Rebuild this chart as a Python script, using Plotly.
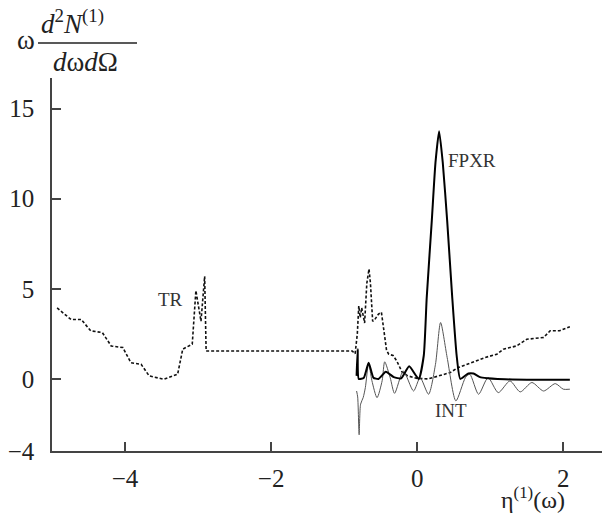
import plotly.graph_objects as go

# TR (dotted)
tr_x = [-4.93, -4.88, -4.74, -4.60, -4.47, -4.31, -4.19, -4.03, -3.92, -3.78, -3.67, -3.47, -3.28,
        -3.21, -3.08, -3.03, -2.96, -2.91, -2.89, -2.83, -0.89, -0.85, -0.82, -0.80, -0.78, -0.76,
        -0.72, -0.69, -0.66, -0.64, -0.61, -0.58, -0.53, -0.49, -0.46, -0.42, -0.39, -0.33, -0.28,
        -0.21, -0.13, 0.0, 0.15, 0.31, 0.45, 0.56, 0.68, 0.82, 0.93, 1.09, 1.18, 1.36, 1.5, 1.73,
        1.82, 1.95, 2.09]
tr_y = [3.94, 3.78, 3.3, 3.3, 2.67, 2.57, 1.83, 1.74, 0.9, 0.81, 0.17, -0.02, 0.26,
        1.65, 1.93, 4.9, 3.2, 5.7, 1.55, 1.55, 1.55, 1.4, 2.5, 4.05, 3.4, 3.95,
        3.1, 5.3, 6.1, 5.3, 3.2, 3.3, 3.6, 3.7, 2.65, 1.6, 1.37, 1.3, 1.0,
        0.4, 0.17, 0.03, 0.0, 0.17, 0.35, 0.63, 0.81, 1.0, 1.19, 1.37, 1.65, 1.83, 2.2, 2.3,
        2.67, 2.67, 2.9]

# FPXR (thick)
fp_x = [-0.83, -0.815, -0.80, -0.73, -0.665, -0.60, -0.53, -0.43, -0.32, -0.22, -0.11, 0.02,
        0.09, 0.13, 0.20, 0.25, 0.30, 0.35, 0.41, 0.48, 0.54, 0.59, 0.70, 0.77, 0.86, 0.97,
        1.10, 1.30, 1.70, 2.09]
fp_y = [0.17, 1.65, 0.0, 0.07, 0.9, 0.07, 0.0, 0.4, 0.1, 0.03, 0.7, 0.0,
        1.3, 4.5, 8.8, 12.0, 13.75, 12.0, 8.8, 4.5, 1.3, 0.0, 0.3, 0.3, 0.1, 0.04,
        0.0, -0.03, -0.05, -0.05]

# INT (thin)
int_x = [-0.83, -0.815, -0.795, -0.775, -0.74, -0.71, -0.665, -0.62, -0.55, -0.48, -0.445,
         -0.37, -0.31, -0.19, -0.05, 0.04, 0.155, 0.25, 0.32, 0.41, 0.53, 0.66, 0.72, 0.84,
         0.97, 1.11, 1.27, 1.41, 1.57, 1.73, 1.89, 2.0, 2.09]
int_y = [-0.67, -1.0, -3.1, -1.4, -1.04, -0.48, 0.85, -0.1, -1.04, -0.1, 0.95,
         0.07, -0.8, 0.44, -0.67, 0.07, -0.85, 0.81, 3.13, 1.19, -1.22, 0.07, 0.26, -0.85,
         0.07, -0.76, -0.11, -0.72, -0.2, -0.67, -0.26, -0.57, -0.57]

x_ticks = [-4, -2, 0, 2]
y_ticks = [-4, 0, 5, 10, 15]

SERIF = "Liberation Serif"

fig = go.Figure()
fig.add_trace(go.Scatter(x=tr_x, y=tr_y, mode="lines",
                         line=dict(color="#111", width=1.6, dash="3px,2px")))
fig.add_trace(go.Scatter(x=int_x, y=int_y, mode="lines",
                         line=dict(color="#555", width=1, shape="spline", smoothing=0.7)))
fig.add_trace(go.Scatter(x=fp_x, y=fp_y, mode="lines",
                         line=dict(color="#000", width=2, shape="spline", smoothing=0.5)))

fig.update_layout(
    width=602, height=515,
    margin=dict(l=52, r=0, t=78, b=64),
    paper_bgcolor="white", plot_bgcolor="white",
    showlegend=False,
    font=dict(family=SERIF, size=25, color="#222"),
)
fig.update_xaxes(range=[-5, 2.53], tickvals=x_ticks, ticks="inside", ticklen=9, tickwidth=1.5,
                 tickcolor="#444", showline=True, linecolor="#444", linewidth=1.5,
                 showgrid=False, zeroline=False, ticklabelstandoff=4)
fig.update_yaxes(range=[-4, 16.7], tickvals=y_ticks, ticks="inside", ticklen=9, tickwidth=1.5,
                 tickcolor="#444", showline=True, linecolor="#444", linewidth=1.5,
                 showgrid=False, zeroline=False, ticklabelstandoff=11)

def px2paper(px, py):
    return (px - 52) / 550, (451 - py) / 373

anns = []
for txt, x, y in [("TR", -3.38, 4.4), ("FPXR", 0.75, 12.1), ("INT", 0.46, -1.75)]:
    anns.append(dict(x=x, y=y, xref="x", yref="y", text=txt, showarrow=False,
                     font=dict(family=SERIF, size=19, color="#333")))

def paper_ann(txt, px, py, size, xanchor="center", yanchor="middle"):
    xp, yp = px2paper(px, py)
    return dict(x=xp, y=yp, xref="paper", yref="paper", text=txt, showarrow=False,
                xanchor=xanchor, yanchor=yanchor,
                font=dict(family=SERIF, size=size, color="#222"))

anns.append(paper_ann("ω", 26, 40, 27))
anns.append(paper_ann("<i>d</i><sup>2</sup><i>N</i><sup>(1)</sup>", 39, 22, 27, "left"))
anns.append(paper_ann("<i>d</i>ω<i>d</i>Ω", 51, 62, 27, "left"))
anns.append(paper_ann("η<sup>(1)</sup>(ω)", 499, 515, 24, "left", "bottom"))
fig.update_layout(annotations=anns)

bx0, by = px2paper(38, 43)
bx1, _ = px2paper(137, 43)
fig.add_shape(type="line", xref="paper", yref="paper", x0=bx0, x1=bx1, y0=by, y1=by,
              line=dict(color="#222", width=1.5))

fig.write_html("out.html")
